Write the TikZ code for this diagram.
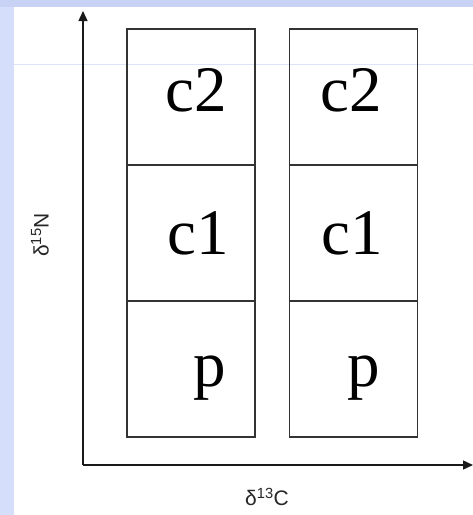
\documentclass[tikz,border=0pt]{standalone}
\usepackage{fontspec}
\setmainfont{Liberation Serif}
\newfontfamily\axisfont{Liberation Sans}
\usetikzlibrary{arrows.meta}
\definecolor{bandtop}{HTML}{C8D2F5}
\definecolor{bandleft}{HTML}{D5DEFB}
\definecolor{guide}{HTML}{DCE4F8}
\tikzset{
  cell/.style={draw=black!80, line width=1.5pt, minimum width=128pt, minimum height=136pt, inner sep=0pt},
  big/.style={font=\fontsize{65}{65}\selectfont, inner sep=0pt},
  axis/.style={draw=black!90, line width=1.4pt, -{Triangle[length=10pt,width=9pt]}},
  axlabel/.style={font=\axisfont\fontsize{21}{21}\selectfont, inner sep=0pt, text=black!85}
}
\begin{document}
\begin{tikzpicture}[x=1pt,y=-1pt]
\useasboundingbox (0,0) rectangle (473,515);
\fill[white] (0,0) rectangle (473,515);
\fill[bandtop] (0,0) rectangle (473,7);
\fill[bandleft] (0,7) rectangle (14,515);
\draw[guide, line width=0.6pt] (14,64) -- (473,64);
% axes
\coordinate (origin) at (83,465);
\coordinate (ytip) at (83,11);
\coordinate (xtip) at (473,465);
\draw[axis] (origin) -- (ytip);
\draw[axis] (origin) -- (xtip);
\node[axlabel, rotate=90] (ylab) at (40,235) {δ\textsuperscript{15}N};
\node[axlabel] (xlab) at (267,497) {δ\textsuperscript{13}C};
% left column
\node[cell] (l2) at (191,97) {};
\node[cell] (l1) at (191,233) {};
\node[cell] (l0) at (191,369) {};
% right column
\node[cell] (r2) at (353.5,97) {};
\node[cell] (r1) at (353.5,233) {};
\node[cell] (r0) at (353.5,369) {};
% labels
\node[big] (tl2) at (196.5,90.5) {c2};
\node[big] (tr2) at (351,90.5) {c2};
\node[big] (tl1) at (198,233) {c1};
\node[big] (tr1) at (352.5,233) {c1};
\node[big] (tl0) at (209.5,378) {p};
\node[big] (tr0) at (364,378) {p};
\end{tikzpicture}
\end{document}
